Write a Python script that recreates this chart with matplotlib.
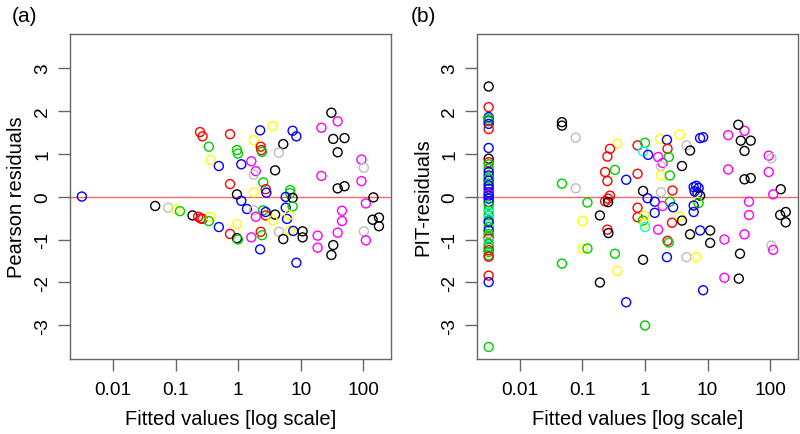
import matplotlib
matplotlib.use("Agg")
import matplotlib.pyplot as plt

plt.rcParams['font.family'] = ['Liberation Sans', 'DejaVu Sans']

# R palette colours
pal = {'k': '#000000', 'r': '#FF0000', 'g': '#00CD00', 'b': '#0000FF',
       'c': '#00FFFF', 'm': '#FF00FF', 'y': '#FFFF00', 'gr': '#BEBEBE'}

# (a) Pearson residuals
pearson_fit = [0.00316, 0.047, 0.076, 0.10, 0.117, 0.186, 0.229, 0.251, 0.269, 0.363,
               0.339, 0.49, 0.245, 0.269, 0.339, 0.363, 0.49, 0.74, 0.74, 0.74,
               0.955, 0.99, 0.955, 0.955, 0.955, 0.99, 1.12, 1.12, 1.38, 1.78,
               1.62, 1.91, 1.78, 1.78, 1.78, 1.91, 1.62, 2.24, 2.29, 2.34,
               2.40, 2.51, 2.75, 2.82, 2.51, 2.75, 2.75, 2.29, 2.40, 2.24,
               3.55, 5.25, 4.47, 3.89, 3.89, 3.55, 4.47, 5.25, 7.41, 8.51,
               6.76, 6.76, 5.75, 7.41, 5.75, 7.41, 6.03, 6.46, 6.76, 7.59,
               8.51, 10.7, 10.7, 21.4, 21.4, 18.6, 18.6, 30.9, 33.1, 38.9,
               38.9, 50.1, 38.9, 50.1, 45.7, 45.7, 38.9, 33.1, 30.9, 93.3,
               102, 93.3, 110, 102, 110, 145, 141, 178, 178]
pearson_res = [0.00, -0.22, -0.26, -0.30, -0.34, -0.44, -0.47, -0.51, -0.52, -0.47,
               -0.57, -0.71, 1.50, 1.40, 1.16, 0.85, 0.71, 1.45, 0.29, -0.87,
               1.08, 1.00, 0.05, -0.64, -0.97, -1.00, 0.75, -0.10, -0.29, 1.31,
               0.82, 0.59, 0.51, 0.10, -0.32, -0.47, -0.95, 1.54, 1.16, 1.08,
               1.04, 0.33, 0.17, 0.09, -0.32, -0.44, -0.36, -0.82, -0.90, -1.23,
               1.64, 1.22, 1.02, 0.61, -0.42, -0.55, -0.82, -0.99, 1.53, 1.40,
               0.15, 0.08, -0.01, -0.03, -0.26, -0.23, -0.52, -0.43, -0.79, -0.80,
               -1.54, -0.81, -0.95, 1.60, 0.48, -0.91, -1.19, 1.95, 1.34, 1.03,
               1.75, 1.36, 0.19, 0.24, -0.33, -0.57, -0.84, -1.13, -1.36, 0.86,
               0.67, 0.36, -0.16, -0.81, -1.02, -0.02, -0.54, -0.49, -0.69]
pearson_col = ['b', 'k', 'gr', 'y', 'g', 'k', 'r', 'r', 'r', 'y',
               'g', 'b', 'r', 'r', 'g', 'y', 'b', 'r', 'r', 'r',
               'g', 'g', 'k', 'y', 'k', 'g', 'b', 'b', 'b', 'y',
               'm', 'm', 'gr', 'y', 'gr', 'm', 'm', 'b', 'r', 'r',
               'g', 'g', 'r', 'b', 'g', 'r', 'b', 'r', 'g', 'b',
               'y', 'k', 'gr', 'k', 'k', 'y', 'gr', 'k', 'b', 'b',
               'g', 'g', 'b', 'k', 'b', 'g', 'b', 'y', 'y', 'b',
               'b', 'k', 'k', 'm', 'm', 'm', 'm', 'k', 'k', 'k',
               'm', 'k', 'k', 'k', 'm', 'm', 'm', 'k', 'k', 'm',
               'gr', 'm', 'm', 'gr', 'm', 'k', 'k', 'k', 'k']

# (b) PIT residuals: the column at the smallest fitted value
pit_col0_res = [2.56, 2.08, 1.85, 1.82, 1.77, 1.75, 1.69, 1.57, 1.13, 0.88,
                0.80, 0.75, 0.65, 0.57, 0.49, 0.42, 0.37, 0.30, 0.26, 0.18,
                0.10, 0.05, 0.02, -0.05, -0.13, -0.20, -0.33, -0.38, -0.44, -0.50,
                -0.56, -0.60, -0.71, -0.79, -0.87, -0.94, -0.98, -1.02, -1.10, -1.15,
                -1.18, -1.25, -1.29, -1.37, -1.40, -1.84, -1.99, -3.50]
pit_col0_col = ['k', 'r', 'b', 'g', 'b', 'g', 'b', 'r', 'b', 'k',
                'r', 'g', 'g', 'b', 'b', 'g', 'b', 'g', 'b', 'b',
                'b', 'm', 'b', 'b', 'b', 'g', 'g', 'c', 'g', 'c',
                'g', 'b', 'g', 'b', 'g', 'g', 'r', 'gr', 'g', 'c',
                'g', 'r', 'g', 'g', 'r', 'r', 'b', 'g']
pit_min_fit = 0.00316

pit_fit = [0.047, 0.047, 0.047, 0.047, 0.078, 0.078, 0.12, 0.10, 0.10, 0.12,
           0.19, 0.19, 0.36, 0.275, 0.25, 0.23, 0.25, 0.33, 0.33, 0.36,
           0.50, 0.50, 0.275, 0.257, 0.23, 0.257, 0.25, 0.26, 0.76, 0.76,
           0.76, 0.76, 1.0, 0.93, 1.12, 0.93, 0.93, 1.0, 0.98, 0.93,
           0.98, 1.0, 1.74, 2.24, 2.29, 1.62, 1.91, 1.8, 2.4, 1.8,
           2.5, 1.8, 2.75, 1.1, 1.43, 1.91, 2.5, 2.82, 1.43, 1.62,
           2.7, 2.29, 2.4, 2.24, 3.6, 7.6, 8.5, 4.6, 5.25, 3.9,
           21.4, 39, 31, 34, 49, 39, 21.4, 39, 49, 95,
           105, 95, 148, 112, 46, 46, 145, 178, 178, 6.0,
           6.6, 7.2, 6.2, 6.9, 7.6, 6.8, 7.2, 6.0, 6.0, 3.6,
           3.9, 5.25, 7.6, 11, 11, 18.6, 39, 4.6, 6.6, 33,
           18.6, 31.6, 8.5, 105, 112]
pit_res = [1.73, 1.65, 0.30, -1.56, 1.37, 0.19, -0.14, -0.57, -1.21, -1.21,
           -0.44, -2.00, 1.23, 1.11, 0.93, 0.57, 0.36, 0.62, -1.33, -1.73,
           0.39, -2.46, 0.02, -0.05, -0.11, -0.13, -0.77, -0.85, 1.19, 0.53,
           -0.26, -0.48, 1.25, 1.05, 0.97, 0.13, -1.47, -3.00, -0.44, -0.56,
           -0.63, -0.71, 1.34, 1.32, 1.11, 0.92, 0.78, 0.71, 0.92, 0.49,
           0.49, 0.10, 0.14, -0.04, -0.12, -0.22, -0.12, -0.25, -0.38, -0.77,
           -0.61, -1.03, -1.07, -1.41, 1.44, 1.36, 1.38, 1.19, 1.07, 0.71,
           1.43, 1.53, 1.67, 1.30, 1.30, 1.06, 0.63, 0.40, 0.43, 0.95,
           0.89, 0.57, 0.17, 0.05, -0.12, -0.43, -0.43, -0.36, -0.60, 0.22,
           0.25, 0.20, 0.12, 0.08, 0.02, -0.12, -0.15, -0.21, -0.36, -0.46,
           -0.56, -0.88, -0.79, -0.79, -1.08, -1.00, -0.88, -1.41, -1.41, -1.33,
           -1.89, -1.91, -2.18, -1.14, -1.24]
pit_col = ['k', 'k', 'g', 'g', 'gr', 'gr', 'g', 'y', 'y', 'g',
           'k', 'k', 'y', 'r', 'r', 'r', 'r', 'g', 'g', 'y',
           'b', 'b', 'r', 'r', 'r', 'k', 'r', 'k', 'r', 'r',
           'r', 'r', 'g', 'c', 'b', 'k', 'k', 'g', 'y', 'g',
           'y', 'c', 'y', 'b', 'r', 'm', 'm', 'gr', 'g', 'y',
           'g', 'gr', 'r', 'b', 'b', 'm', 'g', 'b', 'b', 'm',
           'r', 'r', 'g', 'b', 'y', 'b', 'b', 'gr', 'k', 'k',
           'm', 'm', 'k', 'k', 'k', 'k', 'm', 'k', 'k', 'm',
           'gr', 'm', 'k', 'm', 'm', 'm', 'k', 'k', 'k', 'b',
           'b', 'b', 'b', 'b', 'k', 'y', 'g', 'b', 'b', 'y',
           'k', 'k', 'b', 'k', 'k', 'm', 'm', 'gr', 'y', 'k',
           'm', 'k', 'b', 'gr', 'm']

xticks = [0.01, 0.1, 1, 10, 100]
xticklabels = ['0.01', '0.1', '1', '10', '100']
yticks = [-3, -2, -1, 0, 1, 2, 3]

fig = plt.figure(figsize=(8, 4.35), dpi=100)
ax1 = fig.add_axes([0.0875, 0.1724, 0.401, 0.747])
ax2 = fig.add_axes([0.596, 0.1724, 0.401, 0.747])

tfs = 13.7   # tick labels
lfs = 14.5   # axis labels
for ax in (ax1, ax2):
    ax.set_xscale('log')
    ax.set_xlim(10 ** -2.69, 10 ** 2.44)
    ax.set_ylim(-3.78, 3.78)
    ax.axhline(0, color='#ee6a6a', lw=1, zorder=1)
    ax.set_xticks(xticks)
    ax.set_xticklabels(xticklabels)
    ax.minorticks_off()
    ax.set_yticks(yticks)
    ax.set_yticklabels([str(t) for t in yticks], rotation=90, va='center')
    ax.tick_params(direction='out', length=8.5, width=1, colors='#666666',
                   labelcolor='black', labelsize=tfs)
    ax.tick_params(axis='x', pad=7)
    ax.tick_params(axis='y', pad=5)
    for s in ax.spines.values():
        s.set_color('#666666')
        s.set_linewidth(1)
    ax.set_xlabel('Fitted values [log scale]', fontsize=lfs, labelpad=8)

ax1.scatter(pearson_fit, pearson_res, s=42, facecolors='none',
            edgecolors=[pal[c] for c in pearson_col], linewidths=1, zorder=2)
ax1.set_ylabel('Pearson residuals', fontsize=lfs, labelpad=6)

ax2.scatter([pit_min_fit] * len(pit_col0_res), pit_col0_res, s=42, facecolors='none',
            edgecolors=[pal[c] for c in pit_col0_col], linewidths=1, zorder=2)
ax2.scatter(pit_fit, pit_res, s=42, facecolors='none',
            edgecolors=[pal[c] for c in pit_col], linewidths=1, zorder=2)
ax2.set_ylabel('PIT-residuals', fontsize=lfs, labelpad=6)

fig.text(0.015, 0.985, '(a)', fontsize=15, va='top', ha='left')
fig.text(0.513, 0.985, '(b)', fontsize=15, va='top', ha='left')

fig.savefig('out.png', dpi=100)
